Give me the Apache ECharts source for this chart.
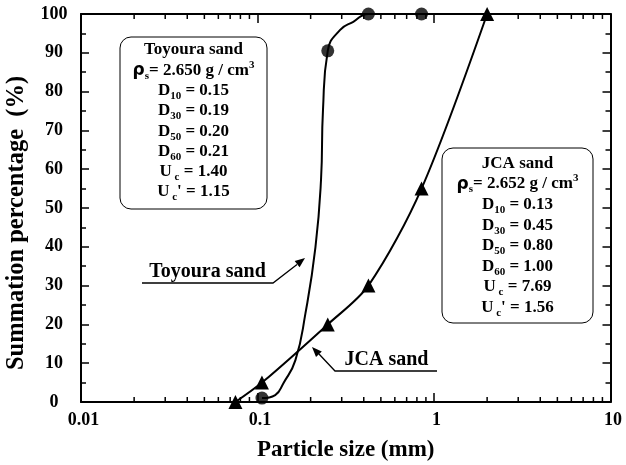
<!DOCTYPE html>
<html>
<head>
<meta charset="utf-8">
<script src="https://cdn.jsdelivr.net/npm/echarts@6/dist/echarts.min.js"></script>
<style>html,body{margin:0;padding:0;background:#fff}#c{width:626px;height:465px}</style>
</head>
<body>
<div id="c"></div>
<script>
// ---- data ----
const xTickLabels = ['0.01', '0.1', '1', '10'];
const yTickLabels = ['0', '10', '20', '30', '40', '50', '60', '70', '80', '90', '100'];
const xMinorTicks = [0.02,0.03,0.04,0.05,0.06,0.07,0.08,0.09,
                     0.2,0.3,0.4,0.5,0.6,0.7,0.8,0.9,
                     2,3,4,5,6,7,8,9];

// Toyoura sand: measured points (circles)
const toyouraSize = [0.106, 0.25, 0.425, 0.85];
const toyouraPct  = [1, 90.5, 100, 100];
// Toyoura sand: fitted curve as drawn in the figure
const toyouraCurveSize = [0.106, 0.126, 0.140, 0.164, 0.187, 0.213, 0.229, 0.235, 0.25, 0.294, 0.349, 0.425, 0.85];
const toyouraCurvePct  = [1, 1.8, 4.8, 10.8, 22.9, 39.9, 57.2, 75.3, 90.5, 95.9, 98.0, 100, 100];

// JCA sand: measured points (triangles)
const jcaSize = [0.075, 0.106, 0.25, 0.425, 0.85, 2.0];
const jcaPct  = [0, 5, 20, 30, 55, 100];

// property boxes
const toyouraProps = {name: 'Toyoura sand', rho: '2.650', D10: '0.15', D30: '0.19', D50: '0.20', D60: '0.21', Uc: '1.40', Uc2: '1.15'};
const jcaProps     = {name: 'JCA sand',     rho: '2.652', D10: '0.13', D30: '0.45', D50: '0.80', D60: '1.00', Uc: '7.69', Uc2: '1.56'};

// ---- chart ----
const SERIF = '"Liberation Serif", "Times New Roman", serif';
const chart = echarts.init(document.getElementById('c'), null, {renderer: 'canvas'});

const zip = (a, b) => a.map((v, i) => [v, b[i]]);

const rich = {
  b: {fontFamily: SERIF, fontWeight: 'bold', fontSize: 17, lineHeight: 22, color: '#000'},
  s: {fontFamily: SERIF, fontWeight: 'bold', fontSize: 11, lineHeight: 11, verticalAlign: 'bottom', color: '#000'},
  p: {fontFamily: SERIF, fontWeight: 'bold', fontSize: 11, lineHeight: 15, verticalAlign: 'top', color: '#000'},
  r: {fontFamily: '"DejaVu Sans", sans-serif', fontWeight: 'bold', fontSize: 17, lineHeight: 22, color: '#000'}
};

function boxLines(p) {
  return [
    '{b|' + p.name + '}',
    '{r|ρ}{s|s}{b|= ' + p.rho + ' g / cm}{p|3}',
    '{b|D}{s|10}{b| = ' + p.D10 + '}',
    '{b|D}{s|30}{b| = ' + p.D30 + '}',
    '{b|D}{s|50}{b| = ' + p.D50 + '}',
    '{b|D}{s|60}{b| = ' + p.D60 + '}',
    '{b|U}{s| c}{b| = ' + p.Uc + '}',
    '{b|U}{s| c}{b|\' = ' + p.Uc2 + '}'
  ];
}

function boxGraphic(p, x0, y0, x1, y1, firstY, step) {
  const els = [{
    type: 'rect', shape: {x: x0, y: y0, width: x1 - x0, height: y1 - y0, r: 11},
    style: {fill: '#fff', stroke: '#000', lineWidth: 1}, z: 10
  }];
  const cx = (x0 + x1) / 2;
  boxLines(p).forEach((t, i) => {
    els.push({
      type: 'text', x: cx, y: firstY + i * step, z: 11,
      style: {text: t, rich: rich, align: 'center', verticalAlign: 'middle'}
    });
  });
  return els;
}

function arrowHead(tip, from, len, hw) {
  const dx = tip[0] - from[0], dy = tip[1] - from[1];
  const L = Math.sqrt(dx * dx + dy * dy);
  const ux = dx / L, uy = dy / L;
  const bx = tip[0] - len * ux, by = tip[1] - len * uy;
  return [tip, [bx + hw * uy, by - hw * ux], [bx - hw * uy, by + hw * ux]];
}

const labelStyle = {fontFamily: SERIF, fontWeight: 'bold', fontSize: 18, color: '#000'};

const graphics = []
  .concat(boxGraphic(toyouraProps, 120, 37, 267, 209, 50, 20.3))
  .concat(boxGraphic(jcaProps, 442, 148, 593, 323, 163.5, 20.6))
  .concat([
    {type: 'text', x: 207.5, y: 272, z: 12,
     style: {text: 'Toyoura sand', font: 'bold 20px ' + SERIF, fill: '#000', align: 'center', verticalAlign: 'middle'}},
    {type: 'polyline', z: 12, shape: {points: [[142, 283], [273, 283], [297, 264.5]]},
     style: {stroke: '#000', lineWidth: 1.3, fill: null}},
    {type: 'polygon', z: 12, shape: {points: arrowHead([305, 258], [273, 283], 10, 4)},
     style: {fill: '#000'}},
    {type: 'text', x: 386.5, y: 360, z: 12,
     style: {text: 'JCA sand', font: 'bold 20px ' + SERIF, fill: '#000', align: 'center', verticalAlign: 'middle'}},
    {type: 'polyline', z: 12, shape: {points: [[437, 371], [335, 371], [319, 354]]},
     style: {stroke: '#000', lineWidth: 1.3, fill: null}},
    {type: 'polygon', z: 12, shape: {points: arrowHead([312, 347], [335, 371], 10, 4)},
     style: {fill: '#000'}}
  ]);

function fmtX(v) {
  const k = Math.round(Math.log10(v)) + 2;
  return xTickLabels[k] !== undefined ? xTickLabels[k] : '';
}

const axisLineStyle = {color: '#000', width: 2};

const option = {
  backgroundColor: '#fff',
  animation: false,
  grid: {left: 81, right: 15.5, top: 14, bottom: 63, containLabel: false, outerBoundsMode: 'none'},
  xAxis: [
    {
      type: 'log', logBase: 10, min: 0.01, max: 10, position: 'bottom',
      name: 'Particle size (mm)', nameLocation: 'middle', nameGap: 37,
      nameTextStyle: {fontFamily: SERIF, fontWeight: 'bold', fontSize: 23, color: '#000'},
      axisLine: {show: true, onZero: false, lineStyle: axisLineStyle},
      axisTick: {show: true, inside: true, length: 9, lineStyle: {color: '#000', width: 1.5}},
      minorTick: {show: false},
      axisLabel: Object.assign({margin: 9, formatter: fmtX, padding: [0, 0, 0, 5]}, labelStyle),
      splitLine: {show: false}
    },
    {
      type: 'log', logBase: 10, min: 0.01, max: 10, position: 'top',
      axisLine: {show: true, onZero: false, lineStyle: axisLineStyle},
      axisTick: {show: true, inside: true, length: 9, lineStyle: {color: '#000', width: 1.5}},
      axisLabel: {show: false}, splitLine: {show: false}
    }
  ],
  yAxis: [
    {
      type: 'value', min: 0, max: 100, interval: 10, position: 'left',
      name: 'Summation percentage  (%)', nameLocation: 'middle', nameGap: 51, nameRotate: 90,
      nameTextStyle: {fontFamily: SERIF, fontWeight: 'bold', fontSize: 24.5, color: '#000', padding: [0, 30, 0, 0]},
      axisLine: {show: true, onZero: false, lineStyle: axisLineStyle},
      axisTick: {show: true, inside: true, length: 8, lineStyle: {color: '#000', width: 1.5}},
      minorTick: {show: true, splitNumber: 2, length: 5, lineStyle: {color: '#000', width: 1.5}},
      axisLabel: Object.assign({margin: 27, align: 'center', formatter: v => yTickLabels[Math.round(v / 10)]}, labelStyle),
      splitLine: {show: false}, minorSplitLine: {show: false}
    },
    {
      type: 'value', min: 0, max: 100, interval: 10, position: 'right',
      axisLine: {show: true, onZero: false, lineStyle: axisLineStyle},
      axisTick: {show: true, inside: true, length: 8, lineStyle: {color: '#000', width: 1.5}},
      minorTick: {show: true, splitNumber: 2, length: 5, lineStyle: {color: '#000', width: 1.5}},
      axisLabel: {show: false}, splitLine: {show: false}
    }
  ],
  graphic: graphics,
  series: [
    {
      name: 'minor ticks', type: 'custom', xAxisIndex: 0, yAxisIndex: 0, silent: true, clip: false, z: 5,
      data: xMinorTicks.map(v => [v, 0]),
      renderItem: function (params, api) {
        const v = api.value(0);
        const b = api.coord([v, 0]);
        const t = api.coord([v, 100]);
        const st = {stroke: '#000', lineWidth: 1.5};
        return {type: 'group', children: [
          {type: 'line', shape: {x1: b[0], y1: b[1], x2: b[0], y2: b[1] - 5}, style: st},
          {type: 'line', shape: {x1: t[0], y1: t[1], x2: t[0], y2: t[1] + 5}, style: st}
        ]};
      }
    },
    {
      name: 'Toyoura curve', type: 'line', data: zip(toyouraCurveSize, toyouraCurvePct),
      showSymbol: false, symbol: 'none', smooth: 0.5,
      lineStyle: {color: '#000', width: 2}, silent: true, z: 3, clip: false
    },
    {
      name: 'Toyoura sand', type: 'scatter', data: zip(toyouraSize, toyouraPct),
      symbol: 'circle', symbolSize: 13, itemStyle: {color: '#000'}, z: 4, clip: false
    },
    {
      name: 'JCA sand', type: 'line', data: zip(jcaSize, jcaPct),
      symbol: 'triangle', symbolSize: 14, showSymbol: true, smooth: 0.3,
      lineStyle: {color: '#000', width: 2}, itemStyle: {color: '#000'}, z: 4, clip: false
    }
  ]
};
chart.setOption(option);
</script>
</body>
</html>
